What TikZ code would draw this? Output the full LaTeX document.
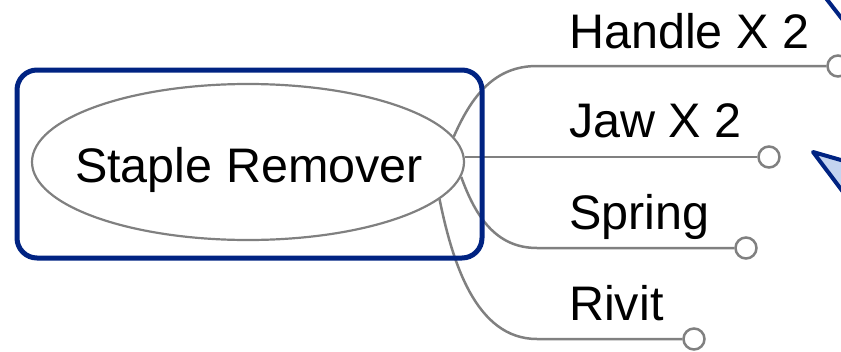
\documentclass[tikz,border=0pt]{standalone}
\usepackage{fontspec}
\setmainfont{Liberation Sans}
\usepackage{tikz}
\usetikzlibrary{shapes, arrows}
\definecolor{frameblue}{RGB}{0,35,130}
\definecolor{branchgray}{RGB}{128,128,128}
\definecolor{tipblue}{RGB}{196,212,240}
\tikzstyle{root} = [ ellipse, draw=branchgray, line width=2.2pt, minimum width=432pt, minimum height=156pt, inner sep=0pt ]
\tikzstyle{frame} = [ rectangle, draw=frameblue, line width=5pt, rounded corners=20pt, minimum width=465pt, minimum height=188pt ]
\tikzstyle{leaf} = [ anchor=base west, inner sep=0pt ]
\tikzstyle{knob} = [ circle, draw=branchgray, fill=white, line width=2.5pt, minimum size=21pt, inner sep=0pt ]
\tikzstyle{branch} = [ draw=branchgray, line width=2.5pt ]
\begin{document}
\begin{tikzpicture}[x=1pt, y=-1pt, font=\fontsize{48.5pt}{58pt}\selectfont]
\useasboundingbox (0,0) rectangle (841,351);

% Central topic
\node [root] (remover) at (248,162) {};
\node [inner sep=0pt, anchor=base] (removerText) at (249,182) {Staple Remover};

% Branches
\node [leaf] (handle) at (569,48) {Handle X 2};
\node [leaf] (jaw) at (569,137) {Jaw X 2};
\node [leaf] (spring) at (569,229) {Spring};
\node [leaf] (rivit) at (569,320) {Rivit};
\node [knob] (handleEnd) at (838,66) {};
\node [knob] (jawEnd) at (769,157) {};
\node [knob] (springEnd) at (746,248) {};
\node [knob] (rivitEnd) at (694,339) {};
\path [branch] (remover.7.6) .. controls (472,95) and (495,66) .. (537,66) -- (handleEnd.west);
\path [branch] (jawEnd.west -| remover.east) -- (jawEnd.west);
\path [branch] (remover.-4.9) .. controls (475,215) and (495,248) .. (537,248) -- (springEnd.west);
\path [branch] (remover.-11.4) .. controls (452,260) and (475,339) .. (537,339) -- (rivitEnd.west);

\node [frame] (topicFrame) at (249.5,164) {};

% Cut off shapes at the edge
\begin{scope}
\clip (0,0) rectangle (841,351);
\draw [frameblue, line width=4pt] (818,-12) -- (860,42);
\draw [frameblue, fill=tipblue, line width=4pt, line join=round] (813,152) -- (900,177) -- (880,241) -- cycle;
\end{scope}
\end{tikzpicture}
\end{document}
